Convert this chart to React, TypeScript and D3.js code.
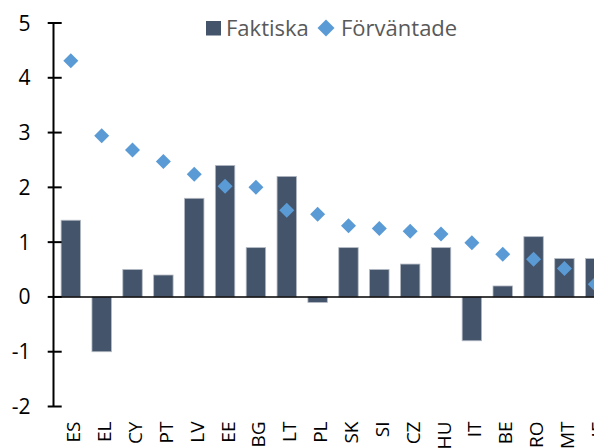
import React from "react";
import * as d3 from "d3";

const categories = ["ES", "EL", "CY", "PT", "LV", "EE", "BG", "LT", "PL", "SK", "SI", "CZ", "HU", "IT", "BE", "RO", "MT", "IE"];
const faktiska = [1.4, -1.0, 0.5, 0.4, 1.8, 2.4, 0.9, 2.2, -0.1, 0.9, 0.5, 0.6, 0.9, -0.8, 0.2, 1.1, 0.7, 0.7];
const forvantade = [4.31, 2.94, 2.68, 2.47, 2.24, 2.02, 2.0, 1.58, 1.51, 1.3, 1.25, 1.2, 1.15, 0.99, 0.78, 0.69, 0.52, 0.23];
const yTicks = [-2, -1, 0, 1, 2, 3, 4, 5];
const legendLabels = ["Faktiska", "Förväntade"];

const W = 594;
const H = 448;
const BAR = "#44546A";
const DOT = "#5B9BD5";
const FONT = "'Open Sans', 'Noto Sans', sans-serif";

export default function App() {
  const x = d3
    .scaleBand<string>()
    .domain(categories)
    .range([55.4, 610.7])
    .paddingInner(0.37)
    .paddingOuter(0.185);
  const y = d3.scaleLinear().domain([-2, 5]).range([406.5, 23]);
  const axisX = 53.5;
  const d = 7.5;

  return (
    <svg
      width={W}
      height={H}
      style={{ position: "absolute", left: 0, top: 0, background: "#fff" }}
      fontFamily={FONT}
    >
      {/* bars */}
      {categories.map((c, i) => {
        const v = faktiska[i];
        const y0 = y(0);
        const y1 = y(v);
        return (
          <rect
            key={"b" + c}
            x={x(c)!}
            y={Math.min(y0, y1)}
            width={x.bandwidth()}
            height={Math.abs(y1 - y0)}
            fill={BAR}
            stroke="#B4BAC4"
            strokeWidth={0.8}
          />
        );
      })}
      {/* zero line */}
      <line x1={axisX} x2={W} y1={y(0)} y2={y(0)} stroke="#000" strokeWidth={1.5} />
      {/* y axis */}
      <line x1={axisX} x2={axisX} y1={y(5)} y2={y(-2)} stroke="#000" strokeWidth={2} />
      {yTicks.map((t) => (
        <g key={"t" + t}>
          <line x1={47.7} x2={61.7} y1={y(t)} y2={y(t)} stroke="#000" strokeWidth={2} />
          <text
            x={30.5}
            y={y(t)}
            dy="0.36em"
            textAnchor="end"
            fontSize={21}
            fill="#000"
          >
            {t}
          </text>
        </g>
      ))}
      {/* diamonds */}
      {categories.map((c, i) => {
        const cx = x(c)! + x.bandwidth() / 2;
        const cy = y(forvantade[i]);
        return (
          <path
            key={"d" + c}
            d={`M${cx},${cy - d}L${cx + d},${cy}L${cx},${cy + d}L${cx - d},${cy}Z`}
            fill={DOT}
          />
        );
      })}
      {/* x labels */}
      {categories.map((c) => {
        const cx = x(c)! + x.bandwidth() / 2;
        return (
          <text
            key={"l" + c}
            transform={`translate(${cx + 9.5},421.5) rotate(-90)`}
            textAnchor="end"
            fontSize={19}
            fill="#000"
          >
            {c}
          </text>
        );
      })}
      {/* legend */}
      <rect x={206} y={21} width={15} height={14.5} fill={BAR} />
      <text x={226} y={35.5} fontSize={22} fill="#595959">
        {legendLabels[0]}
      </text>
      <path d={`M326,19.5L334.5,28L326,36.5L317.5,28Z`} fill={DOT} />
      <text x={341} y={35.5} fontSize={22} fill="#595959">
        {legendLabels[1]}
      </text>
    </svg>
  );
}
